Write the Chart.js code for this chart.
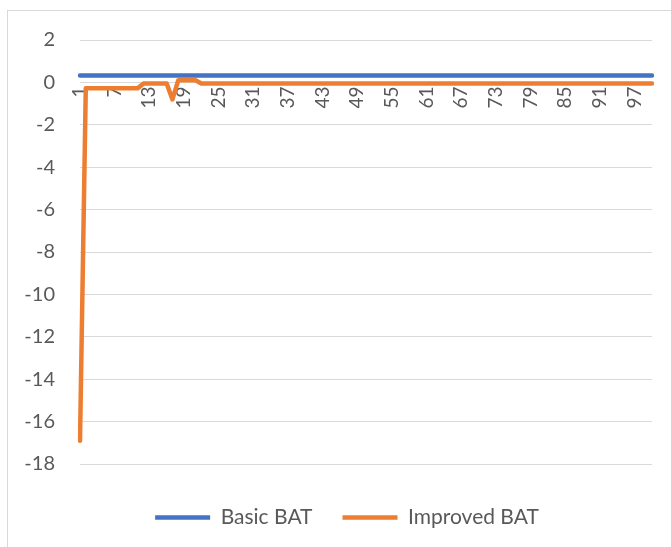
<!DOCTYPE html>
<html>
<head>
<meta charset="utf-8">
<script src="https://cdn.jsdelivr.net/npm/chart.js@4"></script>
<style>
  html, body { margin: 0; padding: 0; background: #fff; overflow: hidden; }
  #wrap { position: relative; width: 671px; height: 547px; }
  #frame { position: absolute; left: 7px; top: 10px; width: 700px; height: 600px; border: 1px solid #d9d9d9; }
  canvas { position: absolute; left: 0; top: 0; }
</style>
</head>
<body>
<div id="wrap">
  <div id="frame"></div>
  <canvas id="lineChart" width="671" height="547"></canvas>
</div>
<script>
// iterations 1..100
var iterations = [];
for (var i = 1; i <= 100; i++) iterations.push(String(i));

var basicBat = [
  0.33, 0.33, 0.33, 0.33, 0.33, 0.33, 0.33, 0.33, 0.33, 0.33,
  0.33, 0.33, 0.33, 0.33, 0.33, 0.33, 0.33, 0.33, 0.33, 0.33,
  0.33, 0.33, 0.33, 0.33, 0.33, 0.33, 0.33, 0.33, 0.33, 0.33,
  0.33, 0.33, 0.33, 0.33, 0.33, 0.33, 0.33, 0.33, 0.33, 0.33,
  0.33, 0.33, 0.33, 0.33, 0.33, 0.33, 0.33, 0.33, 0.33, 0.33,
  0.33, 0.33, 0.33, 0.33, 0.33, 0.33, 0.33, 0.33, 0.33, 0.33,
  0.33, 0.33, 0.33, 0.33, 0.33, 0.33, 0.33, 0.33, 0.33, 0.33,
  0.33, 0.33, 0.33, 0.33, 0.33, 0.33, 0.33, 0.33, 0.33, 0.33,
  0.33, 0.33, 0.33, 0.33, 0.33, 0.33, 0.33, 0.33, 0.33, 0.33,
  0.33, 0.33, 0.33, 0.33, 0.33, 0.33, 0.33, 0.33, 0.33, 0.33
];

var improvedBat = [
  -16.9, -0.28, -0.28, -0.28, -0.28, -0.28, -0.28, -0.28, -0.28, -0.28,
  -0.28, -0.05, -0.05, -0.05, -0.05, -0.05, -0.8, 0.1, 0.1, 0.1,
  0.1, -0.05, -0.05, -0.05, -0.05, -0.05, -0.05, -0.05, -0.05, -0.05,
  -0.05, -0.05, -0.05, -0.05, -0.05, -0.05, -0.05, -0.05, -0.05, -0.05,
  -0.05, -0.05, -0.05, -0.05, -0.05, -0.05, -0.05, -0.05, -0.05, -0.05,
  -0.05, -0.05, -0.05, -0.05, -0.05, -0.05, -0.05, -0.05, -0.05, -0.05,
  -0.05, -0.05, -0.05, -0.05, -0.05, -0.05, -0.05, -0.05, -0.05, -0.05,
  -0.05, -0.05, -0.05, -0.05, -0.05, -0.05, -0.05, -0.05, -0.05, -0.05,
  -0.05, -0.05, -0.05, -0.05, -0.05, -0.05, -0.05, -0.05, -0.05, -0.05,
  -0.05, -0.05, -0.05, -0.05, -0.05, -0.05, -0.05, -0.05, -0.05, -0.05
];

var yMin = -18, yMax = 2, yStep = 2;

Chart.defaults.font.family = 'Lato, "Liberation Sans", sans-serif';
Chart.defaults.color = '#595959';

var ctxL = document.getElementById('lineChart').getContext('2d');
var lineChart = new Chart(ctxL, {
  type: 'line',
  data: {
    labels: iterations,
    datasets: [{
      label: 'Basic BAT',
      data: basicBat,
      borderColor: '#4472C4',
      backgroundColor: '#4472C4',
      borderWidth: 4.5,
      borderCapStyle: 'round',
      borderJoinStyle: 'round',
      pointRadius: 0,
      pointStyle: 'line',
      fill: false
    }, {
      label: 'Improved BAT',
      data: improvedBat,
      borderColor: '#ED7D31',
      backgroundColor: '#ED7D31',
      borderWidth: 4.5,
      borderCapStyle: 'round',
      borderJoinStyle: 'round',
      pointRadius: 0,
      pointStyle: 'line',
      fill: false
    }]
  },
  options: {
    responsive: false,
    animation: false,
    layout: { padding: { left: 0, right: 19, top: 40, bottom: 0 } },
    plugins: {
      tooltip: { enabled: false },
      legend: {
        position: 'bottom',
        labels: {
          usePointStyle: true,
          pointStyleWidth: 55,
          boxHeight: 10,
          padding: 30,
          font: { size: 21 },
          color: '#595959'
        }
      }
    },
    scales: {
      x: {
        position: { y: 0 },
        grid: { display: false, drawTicks: false },
        border: { display: false },
        ticks: {
          autoSkip: false,
          maxRotation: 90,
          minRotation: 90,
          padding: 4,
          font: { size: 19 },
          callback: function (v, idx) { return idx % 6 === 0 ? iterations[idx] : null; }
        }
      },
      y: {
        min: yMin,
        max: yMax,
        afterFit: function (s) { s.width = 80; },
        grid: { color: '#d9d9d9', lineWidth: 1, drawTicks: false },
        border: { display: false },
        ticks: { stepSize: yStep, padding: 25, font: { size: 20 } }
      }
    }
  },
  plugins: [{
    // taller legend box, with the item row pushed down and centred under the plot
    id: 'legendGap',
    beforeInit: function (chart) {
      var legend = chart.legend;
      var fit = legend.fit;
      var draw = legend.draw;
      legend.fit = function () {
        fit.apply(this, arguments);
        this.height += 22;
      };
      legend.draw = function () {
        var ctx = this.ctx;
        ctx.save();
        ctx.translate(21, 13);
        draw.apply(this, arguments);
        ctx.restore();
      };
    }
  }]
});
</script>
</body>
</html>
